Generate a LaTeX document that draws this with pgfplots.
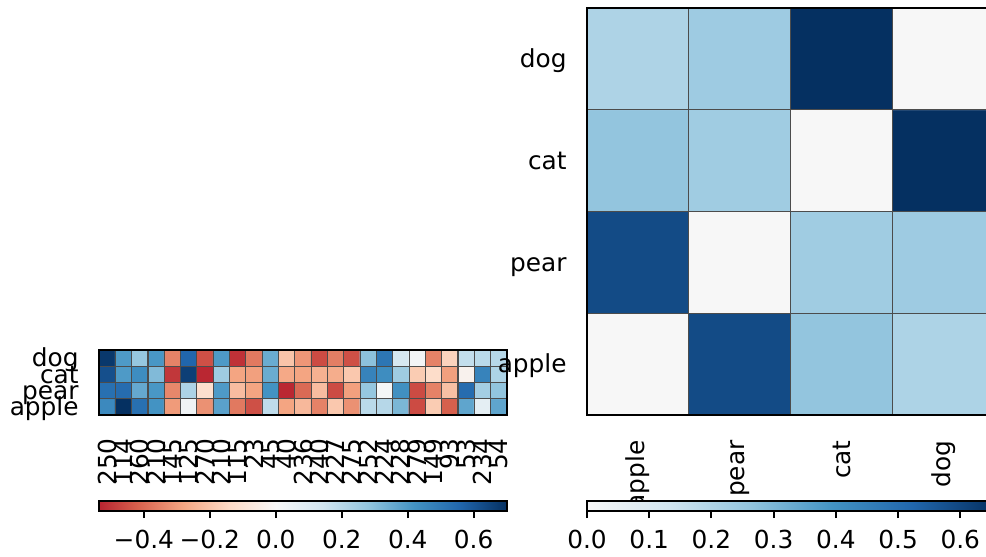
\documentclass[border=0pt]{standalone}
\usepackage{fontspec}
\setmainfont{DejaVu Sans}
\usepackage{pgfplots}
\pgfplotsset{compat=1.18}
\newcommand{\tl}{\fontsize{12.4}{14}\selectfont}
\pgfplotsset{
  colormap={rdbuL}{rgb255(0pt)=(184,36,49) rgb255(116pt)=(214,96,77) rgb255(256pt)=(244,165,130) rgb255(396pt)=(253,219,199) rgb255(536pt)=(247,247,247) rgb255(676pt)=(209,229,240) rgb255(816pt)=(146,197,222) rgb255(956pt)=(67,147,195) rgb255(1096pt)=(33,102,172) rgb255(1236pt)=(5,48,97)},
  colormap={bluesR}{rgb255=(247,247,247) rgb255=(209,229,240) rgb255=(146,197,222) rgb255=(67,147,195) rgb255=(33,102,172) rgb255=(5,48,97)},
  heat/.style={
    scale only axis, enlargelimits=false,
    major tick length=0pt, minor tick length=0pt,
    xminorgrids, yminorgrids,
    minor grid style={draw=black!70, line width=0.55pt},
    axis on top,
    axis line style={line width=0.9pt},
    tick label style={font=\tl, inner sep=0pt},
    xticklabel style={rotate=90, anchor=east},
    yticklabel style={anchor=base east, yshift=-4.4pt},
  },
  cbar/.style={
    scale only axis, enlargelimits=false,
    ymin=0, ymax=1, ytick=\empty,
    xtick pos=left, tick align=outside,
    major tick length=3.6pt,
    tick style={line width=1pt, black},
    axis on top,
    axis line style={line width=0.9pt},
    tick label style={font=\tl, inner sep=0pt},
  },
}
\begin{document}
\begin{tikzpicture}
% left heatmap
\begin{axis}[heat,
  at={(49.5pt,71pt)}, anchor=south west,
  width=204pt, height=32.6pt,
  xmin=-0.5, xmax=24.5, ymin=-0.5, ymax=3.5,
  colormap name=rdbuL, point meta min=-0.536, point meta max=0.70,
  xtick={0,...,24},
  xticklabels={250,114,260,210,145,125,270,210,115,23,45,40,236,240,227,275,252,224,228,279,149,93,53,234,54},
  ytick={0,1,2,3}, yticklabels={apple,pear,cat,dog},
  minor xtick={-0.5,0.5,...,24.5}, minor ytick={-0.5,0.5,...,3.5},
  xticklabel shift=11.5pt, yticklabel shift=10pt,
]
\addplot[matrix plot*, point meta=explicit, mesh/cols=25, mesh/rows=4] table[meta=c]{
x y c
0 0 0.45
1 0 0.70
2 0 0.53
3 0 0.42
4 0 -0.30
5 0 0.03
6 0 -0.32
7 0 0.38
8 0 -0.37
9 0 -0.45
10 0 0.18
11 0 -0.28
12 0 -0.23
13 0 -0.35
14 0 -0.19
15 0 -0.32
16 0 0.19
17 0 0.20
18 0 0.32
19 0 -0.46
20 0 -0.18
21 0 -0.42
22 0 0.37
23 0 0.07
24 0 0.37
0 1 0.53
1 1 0.54
2 1 0.36
3 1 0.41
4 1 -0.34
5 1 0.22
6 1 -0.12
7 1 0.40
8 1 -0.22
9 1 -0.28
10 1 0.42
11 1 -0.53
12 1 -0.40
13 1 -0.22
14 1 -0.46
15 1 -0.29
16 1 0.27
17 1 0.01
18 1 0.43
19 1 -0.46
20 1 -0.35
21 1 -0.21
22 1 0.54
23 1 0.24
24 1 0.28
0 2 0.62
1 2 0.40
2 2 0.44
3 2 0.31
4 2 -0.50
5 2 0.66
6 2 -0.53
7 2 0.25
8 2 -0.28
9 2 -0.29
10 2 0.35
11 2 -0.27
12 2 -0.28
13 2 -0.25
14 2 -0.26
15 2 -0.19
16 2 0.47
17 2 0.44
18 2 0.25
19 2 -0.18
20 2 -0.13
21 2 -0.29
22 2 -0.03
23 2 0.47
24 2 0.22
0 3 0.68
1 3 0.40
2 3 0.27
3 3 0.41
4 3 -0.35
5 3 0.56
6 3 -0.45
7 3 0.40
8 3 -0.51
9 3 -0.37
10 3 0.35
11 3 -0.20
12 3 -0.31
13 3 -0.46
14 3 -0.36
15 3 -0.45
16 3 0.29
17 3 0.51
18 3 0.12
19 3 0.02
20 3 -0.35
21 3 -0.16
22 3 0.17
23 3 0.19
24 3 0.20
};
\end{axis}
% right heatmap
\begin{axis}[heat,
  at={(293.5pt,71pt)}, anchor=south west,
  width=203.75pt, height=203.5pt,
  xmin=-0.5, xmax=3.5, ymin=-0.5, ymax=3.5,
  colormap name=bluesR, point meta min=0, point meta max=0.655,
  xtick={0,1,2,3}, xticklabels={apple,pear,cat,dog},
  ytick={0,1,2,3}, yticklabels={apple,pear,cat,dog},
  minor xtick={-0.5,0.5,...,3.5}, minor ytick={-0.5,0.5,...,3.5},
  xticklabel shift=12.5pt, yticklabel shift=10pt,
]
\addplot[matrix plot*, point meta=explicit, mesh/cols=4, mesh/rows=4] table[meta=c]{
x y c
0 0 0.0
1 0 0.59
2 0 0.26
3 0 0.205
0 1 0.59
1 1 0.0
2 1 0.232
3 1 0.236
0 2 0.26
1 2 0.232
2 2 0.0
3 2 0.655
0 3 0.203
1 3 0.236
2 3 0.655
3 3 0.0
};
\end{axis}
% left colorbar
\begin{axis}[cbar,
  at={(49.5pt,23pt)}, anchor=south west,
  width=204pt, height=5pt,
  xmin=-0.536, xmax=0.701,
  colormap name=rdbuL, point meta min=-0.536, point meta max=0.70,
  xtick={-0.4,-0.2,0,0.2,0.4,0.6},
  xticklabels={−0.4,−0.2,0.0,0.2,0.4,0.6},
  xticklabel shift=5.8pt,
]
\addplot[surf, shader=interp, point meta=x, mesh/rows=2, mesh/cols=11] coordinates {
(-0.536,0) (-0.42,0) (-0.28,0) (-0.14,0) (0,0) (0.14,0) (0.28,0) (0.42,0) (0.56,0) (0.70,0) (0.701,0)
(-0.536,1) (-0.42,1) (-0.28,1) (-0.14,1) (0,1) (0.14,1) (0.28,1) (0.42,1) (0.56,1) (0.70,1) (0.701,1)
};
\end{axis}
% right colorbar
\begin{axis}[cbar,
  at={(293.5pt,23pt)}, anchor=south west,
  width=203.75pt, height=5pt,
  xmin=0, xmax=0.655,
  colormap name=bluesR, point meta min=0, point meta max=0.655,
  xtick={0,0.1,0.2,0.3,0.4,0.5,0.6},
  xticklabels={0.0,0.1,0.2,0.3,0.4,0.5,0.6},
  xticklabel shift=5.8pt,
]
\addplot[surf, shader=interp, point meta=x, mesh/rows=2, mesh/cols=6] coordinates {
(0,0) (0.131,0) (0.262,0) (0.393,0) (0.524,0) (0.655,0)
(0,1) (0.131,1) (0.262,1) (0.393,1) (0.524,1) (0.655,1)
};
\end{axis}
\pgfresetboundingbox
\useasboundingbox (0,0) rectangle (493pt,278.5pt);
\end{tikzpicture}
\end{document}
